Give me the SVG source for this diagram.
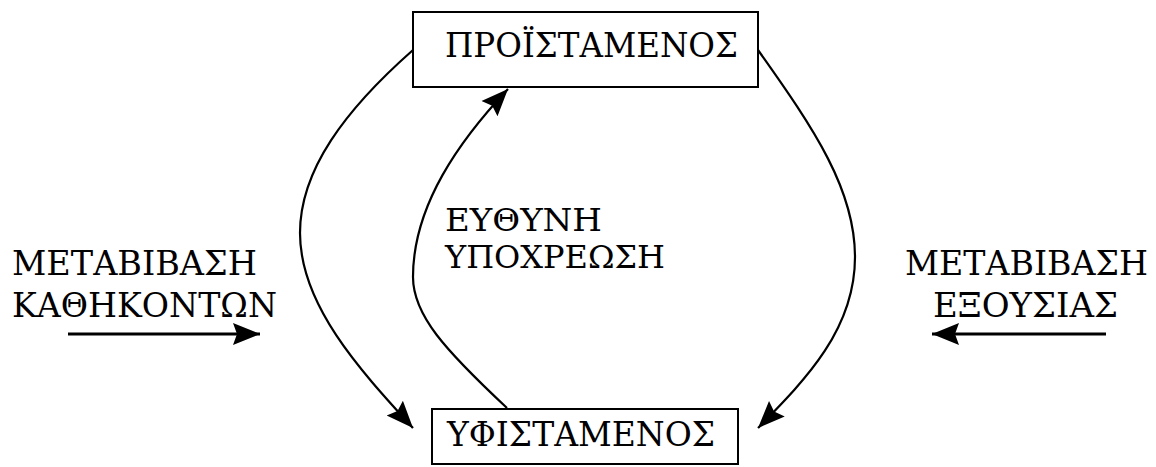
<svg xmlns="http://www.w3.org/2000/svg" width="1156" height="467" viewBox="0 0 1156 467">
<style>
.box{fill:#fff;stroke:#000;stroke-width:2}
.t{font-family:"DejaVu Serif","Liberation Serif",serif;font-size:33px;fill:#000}
.m{font-size:31px}
.c{fill:none;stroke:#000;stroke-width:2.2}
.h{fill:none;stroke:#000;stroke-width:3}
</style>
<defs>
<marker id="ah" markerUnits="userSpaceOnUse" markerWidth="30" markerHeight="26" viewBox="0 0 30 26" refX="27" refY="13" orient="auto">
<path d="M0,2 L27,13 L0,24 L4,13 Z" fill="#000"/>
</marker>
</defs>
<rect width="1156" height="467" fill="#fff"/>
<g id="connectors">
<path class="c" d="M413,50 C345,110 300,170 300,233 C300,305 360,370 413,428" marker-end="url(#ah)"/>
<path class="c" d="M758,50 C815,130 855,190 855,257 C855,330 805,380 758,428" marker-end="url(#ah)"/>
<path class="c" d="M507,408 C445,350 413,315 413,277 C413,205 460,140 508,89" marker-end="url(#ah)"/>
<path class="h" d="M68,334 L260,334" marker-end="url(#ah)"/>
<path class="h" d="M1106,334 L932,334" marker-end="url(#ah)"/>
</g>
<g id="node-proistamenos">
<rect class="box" x="413" y="12" width="345" height="75"/>
<text class="t" x="445" y="57" textLength="293" lengthAdjust="spacingAndGlyphs">ΠΡΟΪΣΤΑΜΕΝΟΣ</text>
</g>
<g id="node-yfistamenos">
<rect class="box" x="432" y="409" width="306" height="55"/>
<text class="t" x="447" y="446" textLength="268" lengthAdjust="spacingAndGlyphs">ΥΦΙΣΤΑΜΕΝΟΣ</text>
</g>
<g id="label-left">
<text class="t" x="12" y="275" textLength="245" lengthAdjust="spacingAndGlyphs">ΜΕΤΑΒΙΒΑΣΗ</text>
<text class="t" x="12" y="317" textLength="265" lengthAdjust="spacingAndGlyphs">ΚΑΘΗΚΟΝΤΩΝ</text>
</g>
<g id="label-right">
<text class="t" x="905" y="275" textLength="243" lengthAdjust="spacingAndGlyphs">ΜΕΤΑΒΙΒΑΣΗ</text>
<text class="t" x="933" y="317" textLength="185" lengthAdjust="spacingAndGlyphs">ΕΞΟΥΣΙΑΣ</text>
</g>
<g id="label-middle">
<text class="t m" x="445" y="231" textLength="157" lengthAdjust="spacingAndGlyphs">ΕΥΘΥΝΗ</text>
<text class="t m" x="445" y="268" textLength="220" lengthAdjust="spacingAndGlyphs">ΥΠΟΧΡΕΩΣΗ</text>
</g>
</svg>
